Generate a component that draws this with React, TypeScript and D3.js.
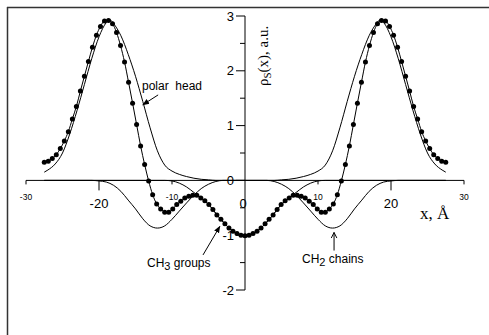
import React from "react";
import * as d3 from "d3";

// ---- data ----
// total density (dots), evenly spaced from -27.5 to 27.5 Å
const dotStart = -27.5;
const dotStep = 0.55;
const dotValues = [
  0.33, 0.35, 0.40, 0.47, 0.58, 0.72, 0.89, 1.12, 1.35, 1.63,
  1.90, 2.17, 2.43, 2.65, 2.81, 2.91, 2.92, 2.86, 2.70, 2.46,
  2.16, 1.79, 1.41, 1.02, 0.63, 0.29, -0.01, -0.26, -0.43, -0.52,
  -0.58, -0.58, -0.52, -0.44, -0.38, -0.32, -0.29, -0.27, -0.27, -0.32,
  -0.37, -0.44, -0.53, -0.63, -0.71, -0.79, -0.87, -0.93, -0.97, -1.0,
  -1.01,
  -1.0, -0.97, -0.93, -0.87, -0.79, -0.71, -0.63, -0.53, -0.44, -0.37,
  -0.32, -0.27, -0.27, -0.29, -0.32, -0.38, -0.44, -0.52, -0.58, -0.58,
  -0.52, -0.43, -0.26, -0.01, 0.29, 0.63, 1.02, 1.41, 1.79, 2.16,
  2.46, 2.70, 2.86, 2.92, 2.91, 2.81, 2.65, 2.43, 2.17, 1.90,
  1.63, 1.35, 1.12, 0.89, 0.72, 0.58, 0.47, 0.40, 0.35, 0.33,
];

// polar head component
const polarX = [-27.5, -27, -26, -25, -24, -23, -22, -21, -20, -19, -18.5, -18, -17, -16, -15, -14, -13, -12, -11, -10, -9, -8, -7, -6, -5, -4, 0,
  4, 5, 6, 7, 8, 9, 10, 11, 12, 13, 14, 15, 16, 17, 18, 18.5, 19, 20, 21, 22, 23, 24, 25, 26, 27, 27.5];
const polarY = [0.15, 0.19, 0.30, 0.50, 0.85, 1.28, 1.75, 2.22, 2.62, 2.88, 2.93, 2.86, 2.64, 2.30, 1.90, 1.44, 0.96, 0.54, 0.28, 0.17, 0.11, 0.07, 0.04, 0.02, 0.01, 0, 0,
  0, 0.01, 0.02, 0.04, 0.07, 0.11, 0.17, 0.28, 0.54, 0.96, 1.44, 1.90, 2.30, 2.64, 2.86, 2.93, 2.88, 2.62, 2.22, 1.75, 1.28, 0.85, 0.50, 0.30, 0.19, 0.15];

// CH2 chains component
const ch2X = [-27.5, -21, -20, -19, -18, -17, -16, -15, -14, -13, -12, -11, -10, -9, -8, -7, -6, -5, -4, -3, 0,
  3, 4, 5, 6, 7, 8, 9, 10, 11, 12, 13, 14, 15, 16, 17, 18, 19, 20, 21, 27.5];
const ch2Y = [0, 0, -0.01, -0.03, -0.09, -0.20, -0.36, -0.52, -0.70, -0.83, -0.87, -0.83, -0.71, -0.56, -0.41, -0.27, -0.15, -0.07, -0.02, 0, 0,
  0, -0.02, -0.07, -0.15, -0.27, -0.41, -0.56, -0.71, -0.83, -0.87, -0.83, -0.70, -0.52, -0.36, -0.20, -0.09, -0.03, -0.01, 0, 0];

// CH3 groups component
const ch3X = [-27.5, -11, -10, -9, -8, -7, -6, -5, -4, -3, -2, -1, 0, 1, 2, 3, 4, 5, 6, 7, 8, 9, 10, 11, 27.5];
const ch3Y = [0, 0, -0.01, -0.05, -0.12, -0.22, -0.32, -0.44, -0.60, -0.76, -0.89, -0.97, -1.0, -0.97, -0.89, -0.76, -0.60, -0.44, -0.32, -0.22, -0.12, -0.05, -0.01, 0, 0];

const yMajorTicks = [-2, -1, 0, 1, 2, 3];
const yMinorTicks = [-1.5, -0.5, 0.5, 1.5, 2.5];
const xSmallTicks = [-30, -10, 10, 30];
const xLargeTicks = [-20, 20];
const xLargeLabels = [-20, 0, 20];

const W = 489;
const H = 335;

export default function App() {
  const x = d3.scaleLinear().domain([-30, 30]).range([26, 464]);
  const y = d3.scaleLinear().domain([-2, 3]).range([290, 16]);

  const line = d3
    .line<[number, number]>()
    .x((d) => x(d[0]))
    .y((d) => y(d[1]))
    .curve(d3.curveMonotoneX);

  const dots: [number, number][] = dotValues.map((v, i) => [dotStart + dotStep * i, v]);
  const polar: [number, number][] = polarX.map((v, i) => [v, polarY[i]]);
  const ch2: [number, number][] = ch2X.map((v, i) => [v, ch2Y[i]]);
  const ch3: [number, number][] = ch3X.map((v, i) => [v, ch3Y[i]]);

  const y0 = y(0);
  const x0 = x(0);
  const sans = "Liberation Sans, Arial, sans-serif";
  const serif = "Liberation Serif, Times New Roman, serif";

  return (
    <div style={{ position: "absolute", left: 0, top: 0 }}>
      <svg width={W} height={H} viewBox={`0 0 ${W} ${H}`} style={{ display: "block", background: "#fff" }}>
        <defs>
          <marker id="arrF" viewBox="0 0 10 10" refX="9" refY="5" markerWidth="7" markerHeight="7" orient="auto">
            <path d="M0,1 L10,5 L0,9 Z" fill="#000" />
          </marker>
          <marker id="arrO" viewBox="0 0 10 10" refX="9" refY="5" markerWidth="7" markerHeight="7" orient="auto">
            <path d="M1,1 L9,5 L1,9" fill="none" stroke="#000" strokeWidth="1.4" />
          </marker>
        </defs>

        {/* frame */}
        <line x1={7} y1={7.5} x2={W} y2={7.5} stroke="#333" strokeWidth={1.5} />
        <line x1={7.5} y1={7} x2={7.5} y2={H} stroke="#333" strokeWidth={1.5} />

        {/* x axis */}
        <line x1={x(-30)} y1={y0} x2={x(30)} y2={y0} stroke="#000" strokeWidth={1} />
        {xSmallTicks.map((t) => (
          <line key={"xs" + t} x1={x(t)} x2={x(t)} y1={y0} y2={y0 + 4} stroke="#000" strokeWidth={1} />
        ))}
        {xLargeTicks.map((t) => (
          <line key={"xl" + t} x1={x(t)} x2={x(t)} y1={y0} y2={y0 + 10} stroke="#000" strokeWidth={1} />
        ))}
        {xSmallTicks.map((t) => (
          <text key={"xst" + t} x={x(t)} y={200} fontSize={8.5} fontFamily={sans} textAnchor="middle">
            {t}
          </text>
        ))}
        {xLargeLabels.map((t) => (
          <text key={"xlt" + t} x={x(t) - (t === 0 ? 2 : 0)} y={208} fontSize={13} fontFamily={sans} textAnchor="middle">
            {t}
          </text>
        ))}
        <text x={420} y={219} fontSize={17} fontFamily={serif}>
          x, Å
        </text>

        {/* y axis */}
        <line x1={x0} y1={y(3)} x2={x0} y2={y(-2)} stroke="#000" strokeWidth={1} />
        {yMajorTicks.map((t) => (
          <line key={"ym" + t} x1={x0 - 9} x2={x0} y1={y(t)} y2={y(t)} stroke="#000" strokeWidth={1} />
        ))}
        {yMinorTicks.map((t) => (
          <line key={"yn" + t} x1={x0 - 5} x2={x0} y1={y(t)} y2={y(t)} stroke="#000" strokeWidth={1} />
        ))}
        {yMajorTicks.map((t) => (
          <text key={"yt" + t} x={x0 - 11} y={y(t) + 4.5} fontSize={13} fontFamily={sans} textAnchor="end">
            {t}
          </text>
        ))}
        <text transform={`translate(268,86) rotate(-90)`} fontSize={15} fontFamily={serif}>
          ρ
          <tspan fontSize={11} dy={3}>
            S
          </tspan>
          <tspan dy={-3}>(x), a.u.</tspan>
        </text>

        {/* component curves */}
        <path d={line(polar) || ""} fill="none" stroke="#000" strokeWidth={1} />
        <path d={line(ch2) || ""} fill="none" stroke="#000" strokeWidth={1} />
        <path d={line(ch3) || ""} fill="none" stroke="#000" strokeWidth={1} />

        {/* total density with dots */}
        <path d={line(dots) || ""} fill="none" stroke="#000" strokeWidth={1} />
        {dots.map((d, i) => (
          <circle key={"d" + i} cx={x(d[0])} cy={y(d[1])} r={2.5} fill="#000" />
        ))}

        {/* annotations */}
        <text x={142} y={90} fontSize={12} fontFamily={sans}>
          {"polar\u00A0 head"}
        </text>
        <line x1={x(-11.9)} y1={y(1.56)} x2={x(-14)} y2={y(1.38)} stroke="#000" strokeWidth={1} markerEnd="url(#arrF)" />

        <text x={147} y={267} fontSize={12} fontFamily={sans}>
          CH
          <tspan fontSize={11} dy={3}>3</tspan>
          <tspan dy={-3}> groups</tspan>
        </text>
        <line x1={x(-5.75)} y1={y(-1.36)} x2={x(-3.45)} y2={y(-0.84)} stroke="#000" strokeWidth={1} markerEnd="url(#arrF)" />

        <text x={302} y={263} fontSize={12} fontFamily={sans}>
          CH
          <tspan fontSize={11} dy={3}>2</tspan>
          <tspan dy={-3}> chains</tspan>
        </text>
        <line x1={x(12.2)} y1={y(-1.28)} x2={x(12.2)} y2={y(-0.95)} stroke="#000" strokeWidth={1} markerEnd="url(#arrO)" />
      </svg>
    </div>
  );
}
